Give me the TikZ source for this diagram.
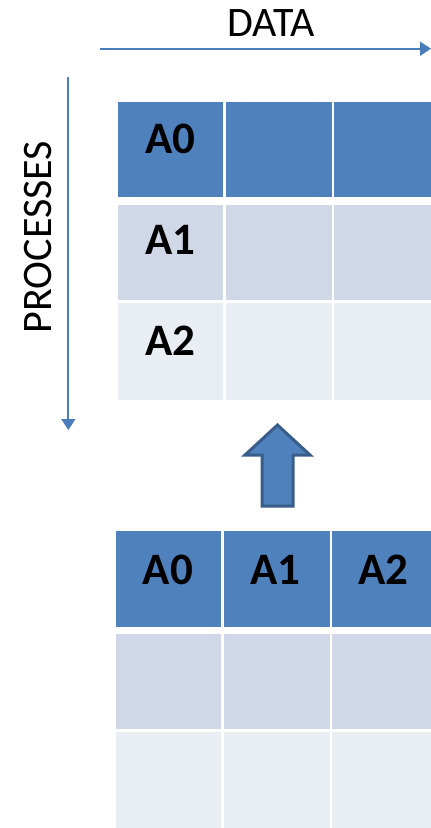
\documentclass[tikz,border=0pt]{standalone}
\usepackage{fontspec}
\setmainfont{Carlito}
\usetikzlibrary{arrows.meta}
\definecolor{hdr}{HTML}{4F81BD}
\definecolor{rowa}{HTML}{D0D8E8}
\definecolor{rowb}{HTML}{E9EDF4}
\definecolor{arrline}{HTML}{4A7EBB}
\definecolor{bigborder}{HTML}{385D8A}
\tikzset{
  cellbox/.style={fill=#1, draw=none},
  celllabel/.style={anchor=base, inner sep=0pt, font=\fontsize{45}{50}\selectfont\bfseries},
  axislabel/.style={inner sep=0pt, font=\fontsize{42}{50}\selectfont},
  axisarrow/.style={draw=arrline, line width=2pt, -{Triangle[length=11pt,width=14pt]}},
}
\begin{document}
\begin{tikzpicture}[x=1pt,y=-1pt]
\useasboundingbox (0,0) rectangle (431,828);
% axis arrows
\coordinate (d0) at (100,48.7);
\coordinate (d1) at (431,48.7);
\draw[axisarrow] (d0) -- (d1);
\node[axislabel, anchor=base] (data) at (271,36.7) {DATA};
\coordinate (p0) at (68.3,76.7);
\coordinate (p1) at (68.3,430);
\draw[axisarrow] (p0) -- (p1);
\node[axislabel, rotate=90, anchor=base] (proc) at (51.5,237) {PROCESSES};
% top table
\fill[cellbox=hdr] (118,102) rectangle (223,197);
\fill[cellbox=hdr] (226,102) rectangle (332,197);
\fill[cellbox=hdr] (334,102) rectangle (431,197);
\fill[cellbox=rowa] (118,205) rectangle (223,300);
\fill[cellbox=rowa] (226,205) rectangle (332,300);
\fill[cellbox=rowa] (334,205) rectangle (431,300);
\fill[cellbox=rowb] (118,302.5) rectangle (223,400);
\fill[cellbox=rowb] (226,302.5) rectangle (332,400);
\fill[cellbox=rowb] (334,302.5) rectangle (431,400);
\node[celllabel] (ta0) at (170.5,153.3) {A0};
\node[celllabel] (ta1) at (170.5,254) {A1};
\node[celllabel] (ta2) at (170.5,355) {A2};
% big arrow
\draw[fill=hdr, draw=bigborder, line width=3pt, line join=miter]
  (277.5,425) -- (310,455) -- (293,455) -- (293,506) -- (262,506) -- (262,455) -- (245,455) -- cycle;
% bottom table
\fill[cellbox=hdr] (115.5,531) rectangle (221,627);
\fill[cellbox=hdr] (223.5,531) rectangle (329.5,627);
\fill[cellbox=hdr] (331.5,531) rectangle (431,627);
\fill[cellbox=rowa] (115.5,634) rectangle (221,729);
\fill[cellbox=rowa] (223.5,634) rectangle (329.5,729);
\fill[cellbox=rowa] (331.5,634) rectangle (431,729);
\fill[cellbox=rowb] (115.5,732) rectangle (221,828);
\fill[cellbox=rowb] (223.5,732) rectangle (329.5,828);
\fill[cellbox=rowb] (331.5,732) rectangle (431,828);
\node[celllabel] (ba0) at (168,584) {A0};
\node[celllabel] (ba1) at (275.5,584) {A1};
\node[celllabel] (ba2) at (383.5,584) {A2};
\end{tikzpicture}
\end{document}
